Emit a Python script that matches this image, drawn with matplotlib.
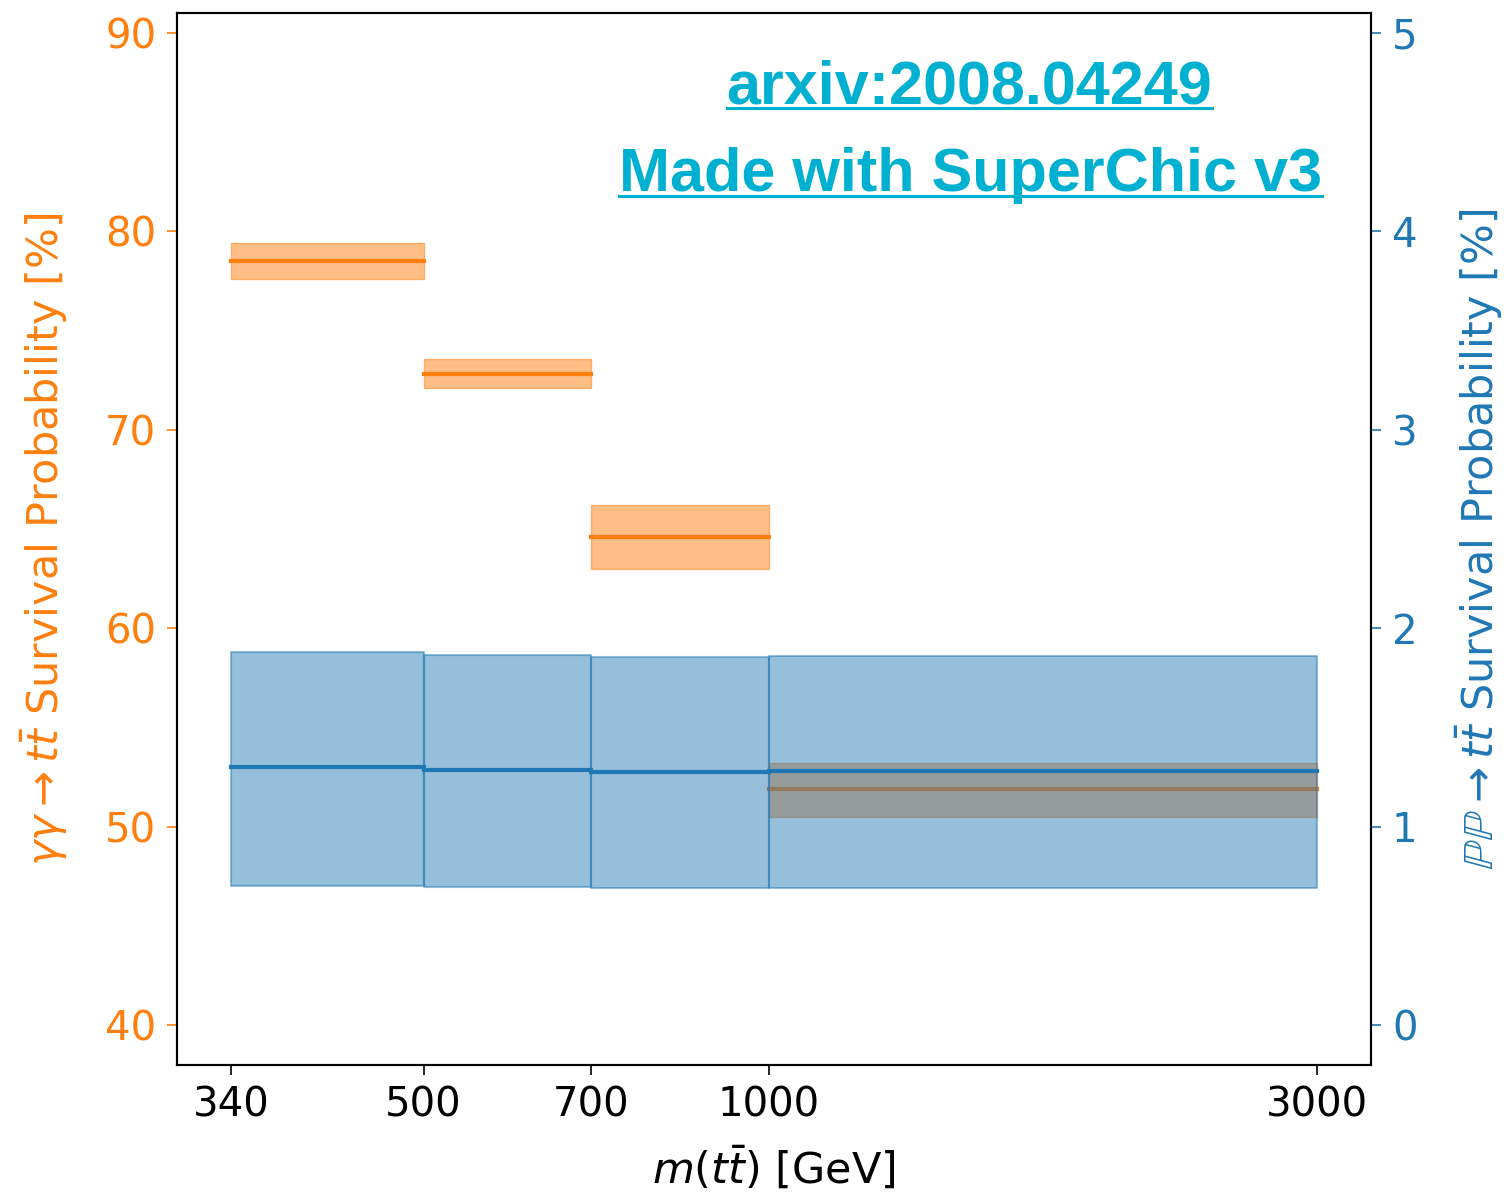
import numpy as np
import matplotlib
matplotlib.use('Agg')
import matplotlib.pyplot as plt
from matplotlib.lines import Line2D

# bin edges in m(ttbar) [GeV]
bin_edges = [340, 500, 700, 1000, 3000]

# gamma gamma -> ttbar survival probability [%] (left axis)
gg_central = [78.5, 72.8, 64.6, 51.9]
gg_low = [77.6, 72.1, 63.0, 50.5]
gg_high = [79.4, 73.55, 66.2, 53.2]

# PP -> ttbar survival probability [%] (right axis)
pp_central = [1.30, 1.285, 1.275, 1.28]
pp_low = [0.70, 0.695, 0.69, 0.69]
pp_high = [1.88, 1.865, 1.855, 1.86]

orange = '#ff7f0e'
blue = '#1f77b4'
fs = 29
lfs = 31

fig = plt.figure(figsize=(15.04, 11.93), dpi=100)
ax = fig.add_axes([0.1177, 0.1073, 0.7939, 0.8817])
ax2 = ax.twinx()

for i in range(len(bin_edges) - 1):
    xs = [bin_edges[i], bin_edges[i + 1]]
    ax.fill_between(xs, [gg_low[i]] * 2, [gg_high[i]] * 2, color=orange, alpha=0.5, lw=1)
    ax.plot(xs, [gg_central[i]] * 2, color=orange, lw=3)
    ax2.fill_between(xs, [pp_low[i]] * 2, [pp_high[i]] * 2, color=blue, alpha=0.47, lw=1.5)
    ax2.plot(xs, [pp_central[i]] * 2, color=blue, lw=3)

ax.set_xscale('log')
ax.set_xticks(bin_edges)
ax.set_xticklabels([str(b) for b in bin_edges])
ax.xaxis.set_minor_locator(matplotlib.ticker.NullLocator())
ax.set_ylim(38, 91)
ax2.set_ylim(-0.2, 5.1)
ax.set_yticks([40, 50, 60, 70, 80, 90])
ax2.set_yticks([0, 1, 2, 3, 4, 5])

ax.tick_params(axis='x', labelsize=fs, length=7, width=1.2, pad=8)
ax.tick_params(axis='y', labelsize=fs, length=7, width=1.2, colors=orange, pad=8)
ax2.tick_params(axis='y', labelsize=fs, length=7, width=1.2, colors=blue, pad=8)
for a in (ax, ax2):
    for s in a.spines.values():
        s.set_linewidth(1.5)
        s.set_color('black')

ax.set_xlabel(r'$m(t\bar{t})$ [GeV]', fontsize=lfs, labelpad=14)
ax.set_ylabel(r'$\gamma\gamma \to t\bar{t}$ Survival Probability [%]', fontsize=lfs, color=orange, labelpad=25)
ax2.set_ylabel(r'$\mathbb{PP} \to t\bar{t}$ Survival Probability [%]', fontsize=lfs, color=blue, labelpad=26)

# underlined reference text
cyan = '#00b0d0'
t1 = fig.text(0.6446, 1 - 103 / 1193, 'arxiv:2008.04249', fontsize=44, fontweight='bold',
              family='Liberation Sans', color=cyan, ha='center', va='baseline')
t2 = fig.text(0.645, 1 - 191 / 1193, 'Made with SuperChic v3', fontsize=44, fontweight='bold',
              family='Liberation Sans', color=cyan, ha='center', va='baseline')
fig.canvas.draw()
r = fig.canvas.get_renderer()
inv = fig.transFigure.inverted()
for t in (t1, t2):
    bb = t.get_window_extent(r)
    x0, _ = inv.transform((bb.x0, 0))
    x1, _ = inv.transform((bb.x1, 0))
    _, yb = t.get_position()
    yl = yb - 5 / 1193
    fig.add_artist(Line2D([x0, x1], [yl, yl], transform=fig.transFigure, color=cyan, lw=2.2))

fig.savefig('out.png', dpi=100)
